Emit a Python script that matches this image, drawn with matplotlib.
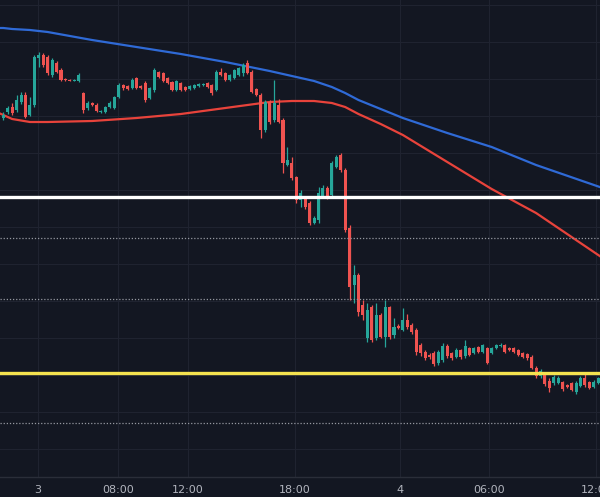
import matplotlib
matplotlib.use("Agg")
import matplotlib.pyplot as plt
import numpy as np

BG = "#131722"; GRID = "#1f2330"; TXT = "#b2b5be"; SEP = "#2a2e39"
UP = "#26a69a"; DN = "#ef5350"
MA_SLOW_C = "#2f6ad6"; MA_FAST_C = "#e8433b"
plt.rcParams["font.family"] = "DejaVu Sans"

# price = REF - reading.
REF = 480

o_raw = [118, 112, 107, 110, 102, 95, 115, 105, 58, 55,
         57, 75, 63, 70, 79, 80, 81, 81, 93, 108,
         103, 105, 112, 112, 107, 108, 97, 85, 86, 88,
         78, 86, 83, 98, 90, 72, 73, 78, 82, 90,
         83, 87, 89, 88, 86, 85, 83, 85, 90, 72,
         73, 80, 78, 75, 73, 63, 72, 89, 95, 130,
         102, 120, 105, 120, 165, 163, 177, 200, 198, 203,
         223, 220, 197, 188, 195, 167, 155, 170, 228, 285,
         275, 305, 338, 307, 338, 315, 337, 307, 335, 326,
         330, 320, 325, 330, 345, 352, 355, 353, 363, 360,
         346, 353, 357, 350, 356, 348, 353, 347, 352, 348,
         353, 348, 346, 345, 348, 348, 350, 353, 354, 357,
         368, 376, 374, 381, 383, 383, 382, 385, 383, 392,
         386, 378, 382, 387, 383]
h_raw = [112, 106, 103, 95, 92, 92, 97, 55, 52, 53,
         55, 58, 61, 68, 78, 79, 79, 73, 92, 101,
         102, 103, 110, 106, 101, 96, 83, 84, 85, 78,
         77, 85, 81, 87, 68, 71, 72, 77, 81, 80,
         82, 86, 85, 84, 83, 83, 82, 84, 70, 68,
         72, 74, 69, 67, 63, 60, 70, 88, 93, 100,
         100, 80, 99, 118, 147, 157, 176, 190, 196, 201,
         216, 187, 185, 186, 161, 155, 153, 168, 225, 265,
         273, 300, 303, 305, 303, 313, 300, 306, 318, 324,
         308, 314, 323, 328, 343, 350, 353, 351, 350, 343,
         344, 352, 348, 349, 340, 347, 347, 346, 344, 347,
         347, 344, 343, 344, 347, 347, 349, 352, 353, 355,
         366, 369, 372, 378, 375, 376, 381, 384, 382, 381,
         376, 373, 381, 380, 377]
l_raw = [120, 114, 115, 112, 104, 118, 116, 107, 67, 67,
         75, 77, 73, 81, 81, 81, 81, 82, 113, 110,
         106, 112, 113, 113, 108, 109, 98, 90, 90, 89,
         89, 89, 102, 99, 92, 78, 82, 84, 91, 91,
         91, 91, 90, 89, 87, 86, 88, 95, 91, 76,
         81, 81, 79, 76, 76, 74, 93, 96, 138, 132,
         124, 122, 123, 173, 166, 180, 203, 207, 209, 225,
         224, 223, 198, 199, 196, 168, 172, 232, 300, 303,
         316, 320, 342, 342, 340, 338, 347, 339, 338, 329,
         331, 329, 334, 355, 356, 360, 359, 366, 365, 362,
         358, 360, 358, 359, 358, 356, 354, 353, 353, 364,
         354, 349, 347, 353, 351, 353, 356, 358, 360, 369,
         378, 378, 386, 392, 385, 384, 391, 388, 391, 394,
         387, 387, 389, 388, 384]
c_raw = [115, 108, 113, 100, 95, 117, 105, 57, 55, 65,
         73, 60, 72, 80, 80, 81, 80, 75, 110, 103,
         105, 111, 111, 107, 103, 97, 85, 88, 89, 80,
         88, 88, 100, 88, 70, 77, 81, 83, 90, 81,
         90, 90, 86, 85, 84, 84, 87, 93, 72, 75,
         80, 75, 70, 68, 65, 73, 92, 95, 130, 102,
         122, 103, 122, 163, 160, 178, 200, 193, 207, 223,
         218, 193, 188, 198, 163, 157, 170, 230, 287, 275,
         312, 315, 310, 340, 315, 337, 307, 337, 327, 328,
         320, 327, 332, 352, 353, 358, 357, 364, 352, 346,
         356, 358, 350, 357, 346, 355, 348, 352, 345, 363,
         348, 345, 345, 352, 350, 352, 355, 357, 358, 368,
         376, 371, 384, 388, 377, 378, 389, 387, 390, 383,
         378, 385, 388, 382, 378]

# moving averages, sampled at candle index
ma_idx = [-1, 0, 2, 6, 10, 20, 30, 40, 50, 60, 65, 70, 74, 77, 80, 85, 90, 100, 110, 120, 135]
ma_slow_raw = [28, 28, 29, 30, 32, 40, 47, 54, 62, 71, 76, 81, 87, 93, 100, 109, 118, 133, 147, 165, 188]
ma_fast_raw = [113, 115, 119, 122, 122, 121, 118, 114, 108, 102, 101, 101, 103, 107, 114, 124, 135, 162, 189, 213, 258]

# horizontal levels
level_white = 197
level_yellow = 373
levels_dotted = [238, 299, 423]

tick_pos = [7.8, 25.8, 41.5, 65.7, 89.3, 109.4, 133.6]
tick_lab = ["3", "08:00", "12:00", "18:00", "4", "06:00", "12:00"]
grid_raw = [5, 42, 79, 116, 153, 190, 227, 264, 301, 338, 375, 412, 449]

op = REF - np.array(o_raw, float)
hi = REF - np.array(h_raw, float)
lo = REF - np.array(l_raw, float)
cl = REF - np.array(c_raw, float)
idx = np.arange(len(op))
cols = np.where(cl >= op, UP, DN)

fig = plt.figure(figsize=(6.0, 4.97), dpi=100, facecolor=BG)
ax = fig.add_axes([0, 20 / 497, 1, 477 / 497])
ax.set_facecolor(BG)

ax.plot(ma_idx, REF - np.array(ma_slow_raw), color=MA_SLOW_C, lw=1.6, zorder=2)
ax.plot(ma_idx, REF - np.array(ma_fast_raw), color=MA_FAST_C, lw=1.6, zorder=2)

ax.vlines(idx, lo, hi, colors=cols, lw=0.9, zorder=3)
body_lo = np.minimum(op, cl)
body_h = np.maximum(np.abs(cl - op), 1.0)
ax.bar(idx, body_h, bottom=body_lo, width=0.68, color=cols, lw=0, zorder=4)

for lv in levels_dotted:
    ax.axhline(REF - lv, color="#9598a1", lw=0.9, ls=(0, (1, 1.5)), zorder=5)
ax.axhline(REF - level_white, color="white", lw=2.4, zorder=6)
ax.axhline(REF - level_yellow, color="#f5e34f", lw=2.4, zorder=6)

ax.set_xlim(-0.74, 134.4)
ax.set_ylim(REF - 477, REF)
ax.set_xticks(tick_pos)
ax.set_xticklabels(tick_lab)
ax.set_yticks([REF - g for g in grid_raw])
ax.set_yticklabels([])
ax.tick_params(axis="x", length=0, pad=6, colors=TXT, labelsize=8)
ax.tick_params(axis="y", length=0)
ax.grid(True, color=GRID, lw=0.8, zorder=0)
ax.set_axisbelow(True)
for side, s in ax.spines.items():
    s.set_visible(side == "bottom")
ax.spines["bottom"].set_color(SEP)
ax.spines["bottom"].set_linewidth(1)

fig.savefig("out.png", dpi=100, facecolor=BG)
